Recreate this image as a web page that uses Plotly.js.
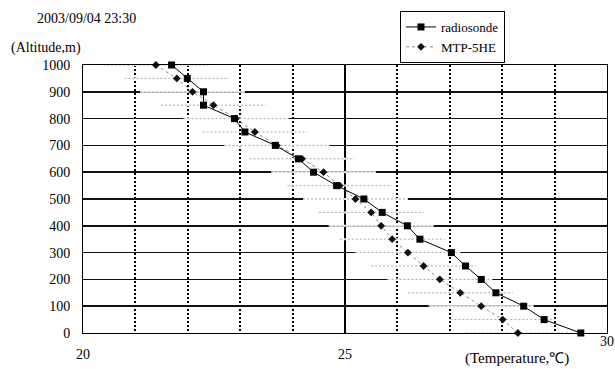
<!DOCTYPE html>
<html>
<head>
<meta charset="utf-8">
<script src="https://cdn.plot.ly/plotly-3.0.1.min.js"></script>
<style>html,body{margin:0;padding:0;background:#fff;}#chart{width:615px;height:369px;}</style>
</head>
<body>
<div id="chart"></div>
<script>
// Altitude levels (m)
const altitude = [0, 50, 100, 150, 200, 250, 300, 350, 400, 450, 500, 550, 600, 650, 700, 750, 800, 850, 900, 950, 1000];
// Radiosonde temperatures (deg C)
const radiosonde = [29.50, 28.80, 28.41, 27.88, 27.60, 27.30, 27.03, 26.43, 26.19, 25.71, 25.36, 24.84, 24.40, 24.11, 23.67, 23.09, 22.89, 22.30, 22.30, 21.99, 21.69];
// MTP-5HE temperatures (deg C)
const mtp = [28.30, 28.01, 27.60, 27.20, 26.81, 26.50, 26.20, 25.90, 25.69, 25.50, 25.20, 24.90, 24.59, 24.18, 23.70, 23.28, 22.92, 22.49, 22.09, 21.79, 21.39];
// MTP-5HE error (deg C, +/-)
const mtpErr = [1.0, 1.0, 1.0, 1.0, 1.0, 1.0, 1.0, 1.0, 1.0, 1.0, 1.0, 1.0, 1.0, 1.0, 1.0, 1.0, 1.0, 1.0, 1.0, 1.0, 1.0];
// Tick labels
const xTickVals = [20, 25, 30];
const xTickText = ['20', '25', ''];
const yTickVals = [0, 100, 200, 300, 400, 500, 600, 700, 800, 900, 1000];

const SERIF = '"Liberation Serif", "Times New Roman", serif';

const errX = [], errY = [];
mtp.forEach((m, i) => {
  errX.push(m - mtpErr[i], m + mtpErr[i], null);
  errY.push(altitude[i], altitude[i], null);
});

const traces = [
  { x: errX, y: errY, mode: 'lines', line: {color: '#ffffff', width: 2},
    showlegend: false, hoverinfo: 'skip' },
  { x: errX, y: errY, mode: 'lines', line: {color: '#a8a8a8', width: 1, dash: '2px,2px'},
    showlegend: false, hoverinfo: 'skip' },
  { x: mtp, y: altitude, name: 'MTP-5HE', mode: 'lines+markers', cliponaxis: false,
    line: {color: '#888', width: 1, dash: '3px,3px'},
    marker: {symbol: 'diamond', size: 6, color: '#111'} },
  { x: radiosonde, y: altitude, name: 'radiosonde', mode: 'lines+markers', cliponaxis: false,
    line: {color: '#000', width: 1},
    marker: {symbol: 'square', size: 7, color: '#000'} }
];

const layout = {
  width: 615, height: 369,
  margin: {l: 83, r: 8, t: 65, b: 36},
  paper_bgcolor: '#fff', plot_bgcolor: '#fff',
  font: {family: SERIF, size: 14, color: '#000'},
  title: {text: '2003/09/04 23:30', x: 37/615, xanchor: 'left', xref: 'container', y: 1 - 18/369, yanchor: 'middle',
          font: {family: SERIF, size: 14, color: '#000'}},
  xaxis: {
    range: [20, 30], tickmode: 'array', tickvals: xTickVals, ticktext: xTickText,
    showgrid: true, gridcolor: '#000', gridwidth: 1.2,
    minor: {tick0: 20, dtick: 1, showgrid: true, gridcolor: '#000', gridwidth: 2, griddash: '2px,2px', ticks: ''},
    zeroline: false, showline: true, linecolor: '#000', linewidth: 1, mirror: true, ticks: '',
    ticklabelstandoff: 8, tickfont: {family: SERIF, size: 14, color: '#000'}
  },
  yaxis: {
    range: [0, 1000], tickmode: 'array', tickvals: yTickVals,
    showgrid: true, gridcolor: '#111', gridwidth: 1.5, zeroline: false,
    showline: true, linecolor: '#000', linewidth: 1, mirror: true, ticks: '',
    ticklabelstandoff: 9, tickfont: {family: SERIF, size: 14, color: '#000'}
  },
  legend: {
    x: (505 - 83) / 524, xanchor: 'right', y: (333 - 11) / 268, yanchor: 'top',
    bordercolor: '#000', borderwidth: 1, bgcolor: '#fff',
    font: {family: SERIF, size: 13, color: '#000'},
    traceorder: 'reversed', itemwidth: 30, tracegroupgap: 0
  },
  annotations: [
    {text: '(Altitude,m)', xref: 'paper', yref: 'paper', x: (46 - 83) / 524, y: (333 - 48) / 268,
     xanchor: 'center', yanchor: 'middle', showarrow: false, font: {family: SERIF, size: 14, color: '#000'}},
    {text: '(Temperature,\u2103)', xref: 'paper', yref: 'paper', x: (517 - 83) / 524, y: (333 - 358) / 268,
     xanchor: 'center', yanchor: 'middle', showarrow: false, font: {family: SERIF, size: 15, color: '#000'}},
    {text: '30', xref: 'paper', yref: 'paper', x: 1, y: (333 - 341) / 268,
     xanchor: 'center', yanchor: 'middle', showarrow: false, font: {family: SERIF, size: 14, color: '#000'}}
  ],
  showlegend: true
};

Plotly.newPlot('chart', traces, layout, {displayModeBar: false, staticPlot: true});
</script>
</body>
</html>
